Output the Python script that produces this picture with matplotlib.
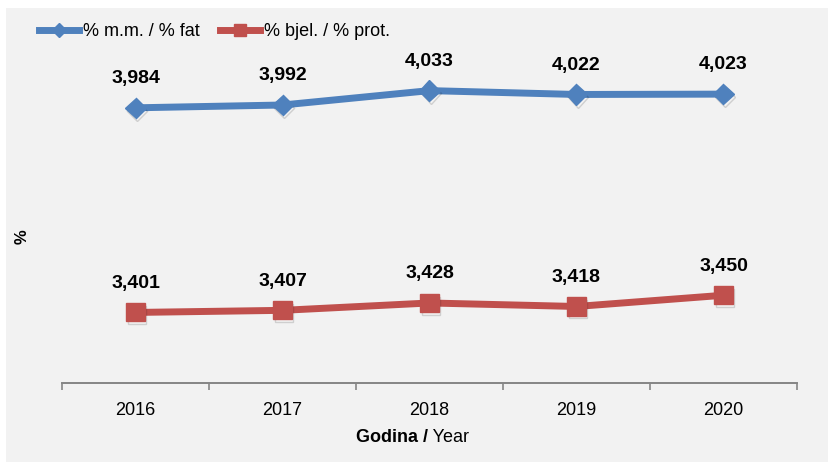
import matplotlib
matplotlib.use("Agg")
import matplotlib.pyplot as plt
import matplotlib.patheffects as pe
from matplotlib.font_manager import fontManager
from matplotlib.lines import Line2D
from matplotlib.patches import Rectangle

years = ["2016", "2017", "2018", "2019", "2020"]
fat = [3.984, 3.992, 4.033, 4.022, 4.023]
prot = [3.401, 3.407, 3.428, 3.418, 3.450]
fat_name = "% m.m. / % fat"
prot_name = "% bjel. / % prot."

BLUE = "#4f81bd"
RED = "#c0504d"
GRID = "#868686"

installed = {f.name for f in fontManager.ttflist}
narrow = [f for f in ["Liberation Sans Narrow", "Arial Narrow", "Liberation Sans"] if f in installed]
plt.rcParams["font.family"] = narrow + ["DejaVu Sans"]


def fmt(v):
    return f"{v:.3f}".replace(".", ",")


fig = plt.figure(figsize=(8.29, 4.62), dpi=100)
fig.patch.set_facecolor("white")
fig.add_artist(Rectangle((6 / 829, 0), 1, 1 - 8 / 462, transform=fig.transFigure,
                         facecolor="#f2f2f2", edgecolor="none", zorder=-10))

ax = fig.add_axes([62 / 829, 1 - 383 / 462, 735 / 829, 351 / 462])
ax.set_facecolor("none")

x = list(range(len(years)))
shadow = [pe.SimpleLineShadow(offset=(1.0, -2.0), alpha=0.14, shadow_color="black"), pe.Normal()]

# lines first, then markers with a soft drop shadow on top
ax.plot(x, fat, color=BLUE, lw=5, solid_joinstyle="round", zorder=3)
ax.plot(x, prot, color=RED, lw=5, solid_joinstyle="round", zorder=3)
ax.plot(x, fat, ls="none", marker="D", ms=10.5, mec=BLUE, mfc=BLUE,
        path_effects=shadow, zorder=4)
ax.plot(x, prot, ls="none", marker="s", ms=13, mec=RED, mfc=RED,
        path_effects=shadow, zorder=4)

for xi, v in zip(x, fat):
    ax.annotate(fmt(v), (xi, v), xytext=(0, 21), textcoords="offset points",
                ha="center", va="center", fontsize=14, fontweight="bold")
for xi, v in zip(x, prot):
    ax.annotate(fmt(v), (xi, v), xytext=(0, 21), textcoords="offset points",
                ha="center", va="center", fontsize=14, fontweight="bold")

ax.set_xlim(-0.5, len(years) - 0.5)
ax.set_ylim(3.2, 4.2)

for s in ["left", "right", "top"]:
    ax.spines[s].set_visible(False)
ax.spines["bottom"].set_color(GRID)
ax.spines["bottom"].set_linewidth(1.4)
ax.set_yticks([])

ax.set_xticks(x)
ax.set_xticklabels(years, fontsize=13)
ax.tick_params(axis="x", which="major", length=0, pad=14)
ax.set_xticks([i - 0.5 for i in range(len(years) + 1)], minor=True)
ax.tick_params(axis="x", which="minor", length=5, width=1.2, color=GRID)

# axis titles
fig.text(428 / 829, 1 - 437 / 462, "Godina /", ha="right", va="center",
         fontsize=13, fontweight="bold")
fig.text(428 / 829, 1 - 437 / 462, " Year", ha="left", va="center", fontsize=13)
fig.text(22 / 829, 1 - 237 / 462, "%", ha="center", va="center", rotation=90,
         fontsize=12, fontweight="bold")

handles = [
    Line2D([], [], color=BLUE, lw=5, marker="D", ms=7, mec=BLUE, mfc=BLUE),
    Line2D([], [], color=RED, lw=5, marker="s", ms=8, mec=RED, mfc=RED),
]
fig.legend(handles, [fat_name, prot_name], loc="center left",
           bbox_to_anchor=(39 / 829, 1 - 32 / 462), ncol=2, frameon=False,
           fontsize=13, handlelength=2.2, handletextpad=0.25, columnspacing=1.1,
           borderaxespad=0, borderpad=0)

fig.savefig("out.png", dpi=100, facecolor=fig.get_facecolor())
